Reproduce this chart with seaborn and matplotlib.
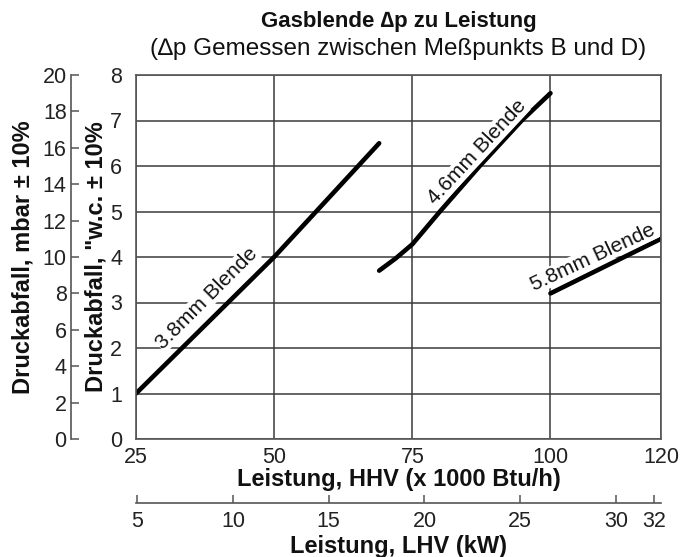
"""
Gas orifice pressure drop vs. input chart.
"""

import matplotlib
matplotlib.use("Agg")
import pandas as pd
import matplotlib.pyplot as plt
import seaborn as sns

# input, HHV (x 1000 Btu/h) and pressure drop ("w.c.)
hhv_38 = [25, 50, 69]
dp_38 = [1.0, 4.0, 6.5]
hhv_46 = [69, 72, 75, 77.5, 80, 87.2, 94.8, 100]
dp_46 = [3.7, 3.97, 4.28, 4.64, 5.0, 6.0, 7.0, 7.6]
hhv_58 = [100, 120]
dp_58 = [3.2, 4.4]
orifices = ["3.8mm Blende", "4.6mm Blende", "5.8mm Blende"]

x_ticks = [25, 50, 75, 100, 120]
y_ticks = [0, 1, 2, 3, 4, 5, 6, 7, 8]
mbar_ticks = [0, 2, 4, 6, 8, 10, 12, 14, 16, 18, 20]
kw_ticks = [5, 10, 15, 20, 25, 30, 32]


def wc_to_mbar(v):
    return v * 2.5


def mbar_to_wc(v):
    return v / 2.5


def hhv_to_kw(v):
    return 0.2885 * (v - 7.87)


def kw_to_hhv(v):
    return v / 0.2885 + 7.87


df = pd.concat([
    pd.DataFrame({"hhv": hhv_38, "dp": dp_38, "orifice": orifices[0]}),
    pd.DataFrame({"hhv": hhv_46, "dp": dp_46, "orifice": orifices[1]}),
    pd.DataFrame({"hhv": hhv_58, "dp": dp_58, "orifice": orifices[2]}),
], ignore_index=True)

sns.set_theme(style="white")
plt.rcParams["font.family"] = ["Liberation Sans", "DejaVu Sans"]

grid_col = "#3a3a3a"
spine_col = "#555555"
tick_fs = 15.5

fig = plt.figure(figsize=(6.8, 5.57), dpi=100)
ax = fig.add_axes([136 / 680, 1 - 439 / 557, 525 / 680, 364 / 557])

sns.lineplot(data=df, x="hhv", y="dp", units="orifice", estimator=None,
             color="black", lw=3.3, solid_capstyle="round",
             solid_joinstyle="round", ax=ax)

ax.set_xlim(25, 120)
ax.set_ylim(0, 8)
ax.set_xticks(x_ticks)
ax.set_yticks(y_ticks)
ax.grid(True, color=grid_col, lw=1.1)
ax.set_axisbelow(True)
for s in ax.spines.values():
    s.set_color(spine_col)
    s.set_linewidth(1.2)
ax.tick_params(axis="x", length=0, pad=6, labelsize=tick_fs, colors="#222222")
ax.tick_params(axis="y", length=0, pad=10, labelsize=tick_fs, colors="#222222")
ax.set_xlabel("Leistung, HHV (x 1000 Btu/h)", fontsize=17, fontweight="bold",
              labelpad=0, color="#111111")
ax.set_ylabel('Druckabfall, "w.c. \u00b1 10%', fontsize=17, fontweight="bold",
              labelpad=2, color="#111111")

# curve labels
label_pos = [(37.8, 3.1, 45), (86.7, 6.3, 47), (107.7, 4.0, 25)]
for name, (lx, ly, rot) in zip(orifices, label_pos):
    ax.text(lx, ly, name, fontsize=15, rotation=rot, ha="center", va="center",
            rotation_mode="anchor", color="#111111",
            bbox=dict(facecolor="white", edgecolor="none", pad=0.5))

# mbar scale on the far left
mbar = ax.secondary_yaxis(-0.124, functions=(wc_to_mbar, mbar_to_wc))
mbar.set_yticks(mbar_ticks)
mbar.tick_params(direction="in", length=6, width=1.1, color=spine_col,
                 pad=3, labelsize=tick_fs, labelcolor="#222222")
mbar.spines["left"].set_color(spine_col)
mbar.spines["left"].set_linewidth(1.2)
mbar.set_ylabel("Druckabfall, mbar \u00b1 10%", fontsize=17,
                fontweight="bold", labelpad=6, color="#111111")

# kW (LHV) scale underneath
kw = ax.secondary_xaxis(-0.176, functions=(hhv_to_kw, kw_to_hhv))
kw.set_xticks(kw_ticks)
kw.tick_params(direction="in", length=6, width=1.1, color=spine_col,
               pad=6, labelsize=tick_fs, labelcolor="#222222")
kw.spines["bottom"].set_color(spine_col)
kw.spines["bottom"].set_linewidth(1.2)
kw.set_xlabel("Leistung, LHV (kW)", fontsize=17, fontweight="bold",
              labelpad=2, color="#111111")

cx = (136 + 661) / 2 / 680
fig.text(cx, 1 - 22 / 557, "Gasblende \u2206p zu Leistung", fontsize=16,
         fontweight="bold", ha="center", va="center", color="#111111")
fig.text(cx, 1 - 49 / 557, "(\u2206p Gemessen zwischen Me\u00dfpunkts B und D)",
         fontsize=17.5, ha="center", va="center", color="#111111")

fig.savefig("out.png", dpi=100)
